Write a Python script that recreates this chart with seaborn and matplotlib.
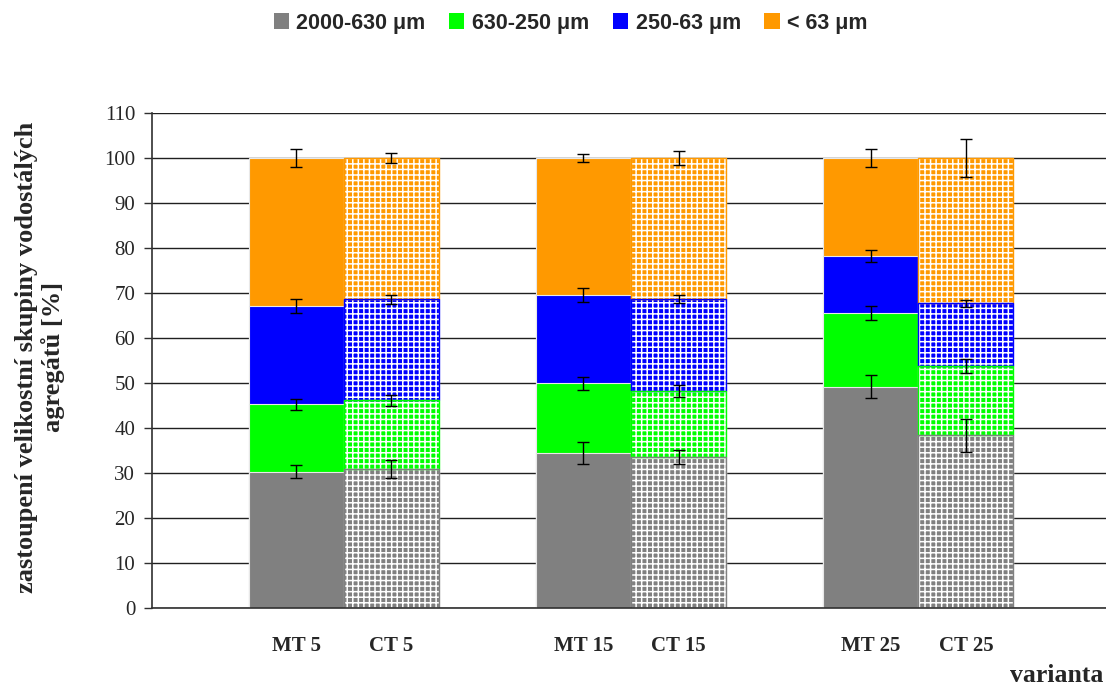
import matplotlib
matplotlib.use("Agg")
import matplotlib.pyplot as plt
import seaborn as sns
import pandas as pd
import numpy as np
from matplotlib.patches import Patch, Rectangle

# ---------------- data ----------------
groups = ["5", "15", "25"]
treatments = ["MT", "CT"]
fractions = ["2000-630 μm", "630-250 μm", "250-63 μm", "< 63 μm"]
colors = ["#808080", "#00FF00", "#0000FF", "#FF9900"]

# segment values (%) per fraction, order: MT5, CT5, MT15, CT15, MT25, CT25
seg_2000_630 = [30.3, 30.8, 34.5, 33.6, 49.2, 38.4]
seg_630_250 = [15.0, 15.4, 15.4, 14.7, 16.3, 15.4]
seg_250_63 = [21.8, 22.4, 19.7, 20.3, 12.7, 13.9]
seg_lt63 = [32.9, 31.4, 30.4, 31.4, 21.8, 32.3]

err_2000_630 = [1.4, 2.0, 2.5, 1.6, 2.5, 3.7]
err_630_250 = [1.2, 1.2, 1.45, 1.3, 1.55, 1.6]
err_250_63 = [1.6, 1.0, 1.6, 0.85, 1.4, 0.7]
err_lt63 = [2.0, 1.1, 0.8, 1.6, 2.0, 4.3]

segs = [seg_2000_630, seg_630_250, seg_250_63, seg_lt63]
errs = [err_2000_630, err_630_250, err_250_63, err_lt63]

rows = []
cum = np.zeros(6)
for fi, (f, s, e) in enumerate(zip(fractions, segs, errs)):
    low = cum.copy()
    cum = cum + np.array(s)
    k = 0
    for g in groups:
        for t in treatments:
            rows.append(dict(group=g, treatment=t, fraction=f, value=s[k],
                             low=low[k], cum=cum[k], err=e[k],
                             label=f"{t} {g}"))
            k += 1
df = pd.DataFrame(rows)

# ---------------- style ----------------
sns.set_theme(style="white")
plt.rcParams["font.family"] = ["Liberation Serif", "DejaVu Serif"]
plt.rcParams["hatch.linewidth"] = 1.1

fig = plt.figure(figsize=(11.06, 6.85), dpi=100)
ax = fig.add_axes([0.1374, 0.1124, 0.8626, 0.7226])

bar_w = 0.662
# draw cumulative layers from top fraction down so each covers the previous
for fi in range(len(fractions) - 1, -1, -1):
    f = fractions[fi]
    sub = df[df.fraction == f]
    sns.barplot(data=sub, x="group", y="cum", hue="treatment",
                order=groups, hue_order=treatments,
                palette=[colors[fi], colors[fi]], width=bar_w, gap=0,
                saturation=1, errorbar=None, legend=False, ax=ax,
                edgecolor="#e8e8e8", linewidth=0.8)
    mt_cont, ct_cont = ax.containers[-2], ax.containers[-1]
    ct_low = sub[sub.treatment == "CT"]["low"].tolist()
    for p, lo in zip(ct_cont.patches, ct_low):
        p.set_facecolor(colors[fi])
        p.set_edgecolor("white")
        p.set_hatch("+++")
        top = p.get_y() + p.get_height()
        outline = Rectangle((p.get_x(), lo), p.get_width(), top - lo,
                            fill=False, edgecolor=colors[fi], linewidth=1.0,
                            zorder=p.get_zorder() + 0.01)
        ax.add_patch(outline)

# error bars at cumulative tops
half = bar_w / 4
xpos = []
for gi, g in enumerate(groups):
    xpos += [gi - half, gi + half]
xpos = np.array(xpos)
cum = np.zeros(6)
for s, e in zip(segs, errs):
    cum = cum + np.array(s)
    ax.errorbar(xpos, cum, yerr=e, fmt="none", ecolor="black",
                elinewidth=1.0, capsize=4, capthick=1.0, zorder=10)

# axes styling
ax.set_ylim(0, 110)
ax.set_xlim(-0.667, 2.653)
ax.set_yticks(range(0, 111, 10))
ax.yaxis.grid(True, color="#202020", linewidth=1.0)
ax.set_axisbelow(True)
for side in ["top", "right"]:
    ax.spines[side].set_visible(False)
for side in ["left", "bottom"]:
    ax.spines[side].set_color("#303030")
    ax.spines[side].set_linewidth(1.2)
ax.tick_params(axis="y", length=6, width=1, color="#303030",
               labelsize=15, pad=6, left=True)
ax.set_xticks(xpos)
ax.set_xticklabels(df[df.fraction == fractions[0]]["label"].tolist(),
                   fontsize=15, fontweight="bold")
ax.tick_params(axis="x", length=0, pad=20)
ax.set_xlabel("")
ax.set_ylabel("")

fig.text(0.036, 0.479,
         "zastoupení velikostní skupiny vodostálých\nagregátů [%]",
         rotation=90, ha="center", va="center", multialignment="center",
         fontsize=19, fontweight="bold", linespacing=1.15)
fig.text(0.998, 0.005, "varianta", ha="right", va="baseline",
         fontsize=18.5, fontweight="bold")

handles = [Patch(facecolor=c, edgecolor="none") for c in colors]
fig.legend(handles, fractions, loc="upper center", ncol=4,
           bbox_to_anchor=(0.516, 1.01), frameon=False,
           prop=dict(family="Liberation Sans", weight="bold", size=15.5),
           handlelength=0.7, handleheight=0.7, handletextpad=0.35,
           columnspacing=1.1)

fig.savefig("out.png", dpi=100)
